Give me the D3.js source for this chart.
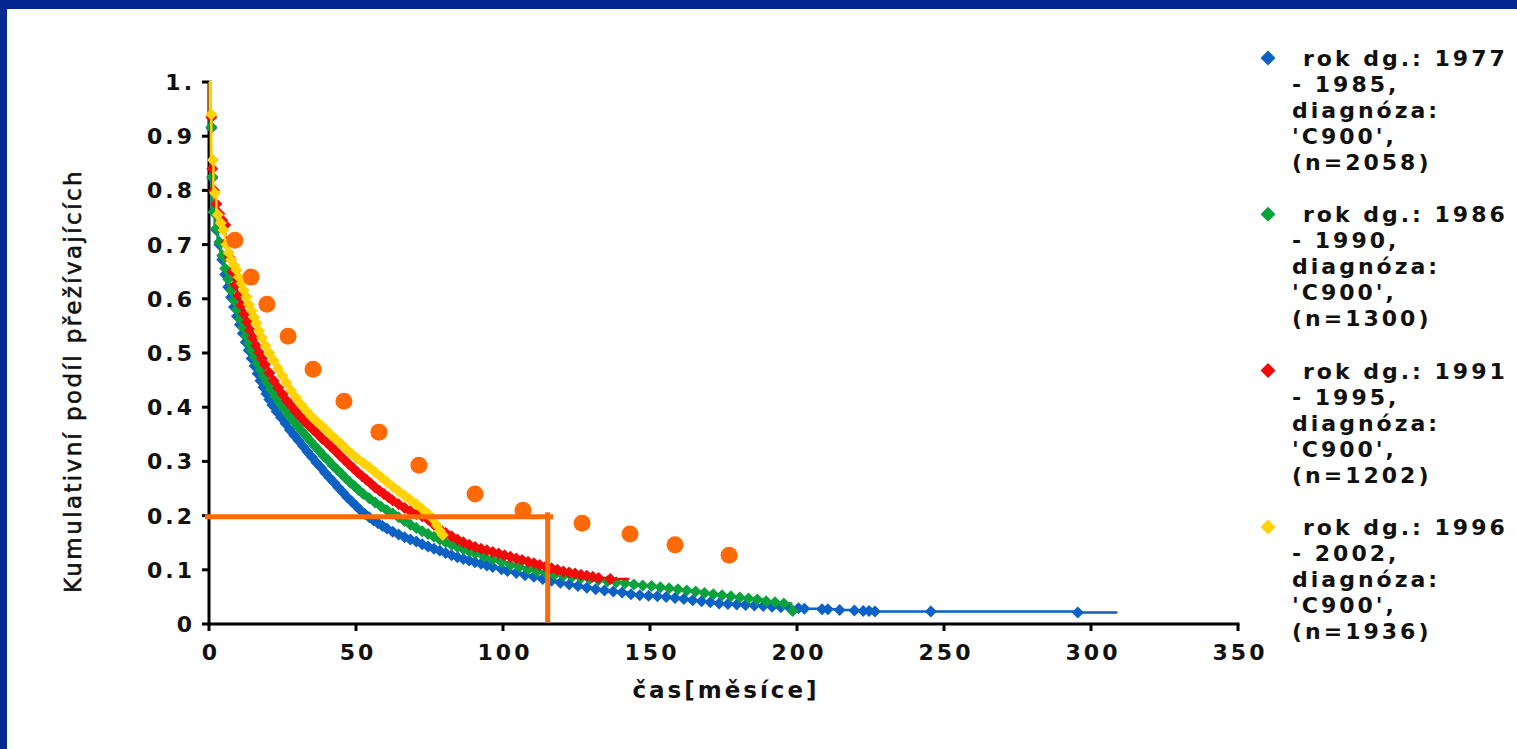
<!DOCTYPE html>
<html>
<head>
<meta charset="utf-8">
<script src="https://cdn.jsdelivr.net/npm/d3@7"></script>
<style>
  body { margin: 0; background: #fff; }
  svg { display: block; }
  .tick-lbl { font-family: "DejaVu Sans", Verdana, sans-serif; font-weight: bold; font-size: 22px; letter-spacing: 3px; fill: #111; }
  .legend-txt { font-family: "DejaVu Sans", Verdana, sans-serif; font-weight: bold; font-size: 22px; letter-spacing: 3px; fill: #111; }
</style>
</head>
<body>
<svg width="1517" height="749"></svg>
<script>
// --- data (t = months, s = cumulative survival) ---
const rok1977 = [[0,1],[0.3,0.915],[0.6,0.823],[1,0.76],[2,0.727],[3,0.70],[4,0.672],[5,0.645],[6,0.622],[7,0.603],[8,0.585],[9,0.568],[10,0.552],[11,0.536],[12,0.52],[13,0.505],[14,0.49],[15,0.476],[16,0.462],[17,0.449],[18,0.437],[19,0.425],[20,0.414],[21,0.404],[22.5,0.392],[24,0.381],[25.5,0.37],[27,0.358],[28.5,0.348],[30,0.338],[31.5,0.328],[33,0.318],[34.5,0.308],[36,0.298],[37.5,0.289],[39,0.279],[40.5,0.27],[42,0.261],[43.5,0.252],[45,0.243],[46.5,0.234],[48,0.226],[49.5,0.218],[51,0.21],[52.5,0.203],[54,0.197],[55.5,0.191],[57,0.186],[58.5,0.181],[60,0.176],[62,0.17],[64,0.165],[66,0.16],[68,0.156],[70,0.152],[72,0.147],[74,0.143],[76,0.139],[78,0.135],[80,0.131],[82,0.127],[84,0.123],[86,0.12],[88,0.117],[90,0.114],[92,0.111],[94,0.108],[96,0.105],[99,0.101],[101,0.098],[104,0.094],[107,0.09],[110,0.087],[113,0.083],[116,0.08],[119,0.076],[122,0.073],[125,0.07],[128,0.067],[131,0.064],[134,0.062],[137,0.06],[140,0.058],[143,0.055],[146,0.053],[149,0.052],[152,0.051],[155,0.05],[158,0.048],[161,0.046],[164,0.044],[167,0.042],[170,0.04],[173,0.038],[176,0.037],[179,0.036],[182,0.035],[185,0.034],[188,0.033],[191,0.032],[194,0.031],[197,0.03],[200,0.029],[202,0.028],[208,0.027],[210,0.027],[214,0.026],[219,0.025],[222,0.024],[224,0.024],[226,0.023],[245,0.023],[295,0.021]];
const rok1986 = [[0,1],[0.3,0.917],[0.6,0.825],[1,0.76],[2,0.73],[3,0.705],[4,0.68],[5,0.656],[6,0.636],[7,0.616],[8,0.597],[9,0.58],[10,0.563],[11,0.547],[12,0.532],[13,0.518],[14,0.505],[15,0.493],[16,0.481],[17,0.469],[18,0.458],[19,0.447],[20.5,0.433],[22,0.42],[23.5,0.408],[25,0.397],[26.5,0.386],[28,0.376],[29.5,0.366],[31,0.356],[32.5,0.347],[34,0.337],[35.5,0.328],[37,0.319],[38.5,0.31],[40,0.302],[41.5,0.293],[43,0.285],[44.5,0.277],[46,0.269],[47.5,0.261],[49,0.254],[50.5,0.247],[52,0.24],[54,0.232],[56,0.224],[58,0.217],[60,0.21],[62,0.204],[64,0.197],[66,0.19],[68,0.183],[70,0.177],[72,0.171],[74,0.166],[76,0.161],[78,0.156],[80,0.151],[82,0.146],[84,0.142],[86,0.138],[88,0.134],[90,0.13],[93,0.124],[96,0.119],[99,0.114],[102,0.109],[105,0.105],[108,0.101],[111,0.097],[114,0.094],[117,0.091],[120,0.089],[123,0.087],[126,0.085],[129,0.083],[132,0.081],[135,0.079],[138,0.077],[141,0.075],[144,0.073],[147,0.071],[150,0.07],[153,0.068],[156,0.066],[159,0.064],[162,0.062],[165,0.06],[168,0.057],[171,0.055],[174,0.053],[177,0.051],[180,0.049],[183,0.047],[186,0.045],[189,0.042],[192,0.04],[195,0.038],[198,0.024]];
const rok1991 = [[0,1],[0.3,0.935],[0.6,0.84],[1.2,0.8],[2,0.775],[3,0.757],[4,0.745],[5,0.736],[5.5,0.705],[6.5,0.676],[7.5,0.65],[8.5,0.626],[9.5,0.606],[10.5,0.588],[11.5,0.572],[12.5,0.557],[13.5,0.542],[14.5,0.528],[15.5,0.514],[16.5,0.501],[17.5,0.49],[18.5,0.479],[20,0.463],[21.5,0.449],[23,0.436],[24.5,0.424],[26,0.412],[27.5,0.402],[29,0.392],[30.5,0.383],[32,0.374],[33.5,0.366],[35,0.358],[36.5,0.35],[38,0.342],[39.5,0.335],[41,0.327],[42.5,0.319],[44,0.311],[45.5,0.303],[47,0.295],[48.5,0.288],[50,0.28],[51.5,0.273],[53,0.266],[54.5,0.259],[56,0.252],[57.5,0.246],[59,0.24],[60.5,0.234],[62,0.228],[64,0.221],[66,0.214],[68,0.208],[70,0.203],[72,0.199],[74,0.193],[76,0.183],[78,0.175],[80,0.168],[82,0.162],[84,0.156],[86,0.151],[88,0.146],[90,0.142],[92,0.139],[94,0.136],[96,0.133],[98,0.13],[100,0.127],[102,0.124],[104,0.121],[106,0.118],[108,0.115],[110,0.112],[112,0.109],[114,0.106],[116,0.103],[118,0.1],[120,0.097],[122,0.095],[124,0.093],[126,0.091],[128,0.089],[130,0.087],[132,0.085],[136,0.083]];
const rok1996 = [[0,1],[0.3,0.94],[0.8,0.856],[1.5,0.795],[2.5,0.755],[3.5,0.74],[4.4,0.727],[5.4,0.7],[6.2,0.685],[7,0.672],[8,0.662],[8.8,0.653],[9.6,0.64],[10.5,0.628],[11.3,0.616],[12.2,0.604],[13,0.59],[14,0.578],[14.8,0.566],[15.6,0.555],[16.5,0.541],[17.5,0.528],[18.7,0.514],[20,0.5],[21.5,0.486],[23,0.472],[24.4,0.458],[25.8,0.445],[27.4,0.431],[29,0.418],[30.8,0.405],[32.7,0.393],[34.3,0.383],[36,0.374],[37.8,0.366],[39.5,0.357],[41.2,0.348],[43,0.339],[44.6,0.331],[46.3,0.322],[48.2,0.313],[50,0.305],[52,0.297],[54,0.289],[56,0.28],[58,0.271],[60,0.262],[62,0.253],[64,0.245],[66,0.237],[68,0.229],[70,0.221],[72,0.212],[74,0.203],[75.5,0.195],[77,0.182],[78,0.172],[79,0.164]];

// where each step line stops (last follow-up), null = ends at last marker
const lineEnds = [309, null, 143, null];

const seriesNames = ["rok1977", "rok1986", "rok1991", "rok1996"];
const seriesColors = ["#0b62c4", "#0aa23c", "#f20a0a", "#ffd200"];
const legendLines = [
  ["rok dg.: 1977", "- 1985,", "diagnóza:", "'C900',", "(n=2058)"],
  ["rok dg.: 1986", "- 1990,", "diagnóza:", "'C900',", "(n=1300)"],
  ["rok dg.: 1991", "- 1995,", "diagnóza:", "'C900',", "(n=1202)"],
  ["rok dg.: 1996", "- 2002,", "diagnóza:", "'C900',", "(n=1936)"]
];

// orange reference points
const refT = [8.8, 14.3, 19.7, 26.9, 35.4, 45.9, 57.8, 71.4, 90.5, 106.8, 126.9, 143.2, 158.5, 176.9];
const refS = [0.708, 0.640, 0.590, 0.531, 0.470, 0.411, 0.354, 0.293, 0.240, 0.210, 0.186, 0.166, 0.146, 0.127];

// median-ish marker lines
const guideS = 0.198;
const guideT = 115.2;

const xTicks = [0, 50, 100, 150, 200, 250, 300, 350];
const yTicks = [0, 0.1, 0.2, 0.3, 0.4, 0.5, 0.6, 0.7, 0.8, 0.9, 1];
const yTickLabels = ["0", "0.1", "0.2", "0.3", "0.4", "0.5", "0.6", "0.7", "0.8", "0.9", "1."];

const allSeries = [rok1977, rok1986, rok1991, rok1996];

const svg = d3.select("svg");

// frame
svg.append("rect").attr("x", 0).attr("y", 0).attr("width", 1517).attr("height", 9).attr("fill", "#03298f");
svg.append("rect").attr("x", 0).attr("y", 0).attr("width", 7).attr("height", 749).attr("fill", "#03298f");

const x = d3.scaleLinear().domain([0, 350]).range([209, 1238]);
const y = d3.scaleLinear().domain([0, 1]).range([624, 82]);

const diamond = {
  draw(ctx, size) {
    const r = Math.sqrt(size / 2);
    ctx.moveTo(0, -r);
    ctx.lineTo(r, 0);
    ctx.lineTo(0, r);
    ctx.lineTo(-r, 0);
    ctx.closePath();
  }
};

// axes
const yAxis = svg.append("g").attr("transform", "translate(209,0)");
yAxis.append("line").attr("x1", 0).attr("x2", 0).attr("y1", y(1) - 1).attr("y2", y(0) + 1.5)
  .attr("stroke", "#000").attr("stroke-width", 3);
yAxis.selectAll(".yt").data(yTicks).enter().append("line")
  .attr("x1", -7).attr("x2", 0).attr("y1", d => y(d)).attr("y2", d => y(d))
  .attr("stroke", "#000").attr("stroke-width", 3);
yAxis.selectAll(".yl").data(yTicks).enter().append("text")
  .attr("class", "tick-lbl")
  .attr("x", -14).attr("y", d => y(d) + 8)
  .attr("text-anchor", "end")
  .text((d, i) => yTickLabels[i]);

const xAxis = svg.append("g").attr("transform", "translate(0,624)");
xAxis.append("line").attr("x1", x(0) - 1.5).attr("x2", x(350) + 1.5).attr("y1", 0).attr("y2", 0)
  .attr("stroke", "#000").attr("stroke-width", 3);
xAxis.selectAll(".xt").data(xTicks).enter().append("line")
  .attr("x1", d => x(d)).attr("x2", d => x(d)).attr("y1", 0).attr("y2", 7)
  .attr("stroke", "#000").attr("stroke-width", 3);
xAxis.selectAll(".xl").data(xTicks).enter().append("text")
  .attr("class", "tick-lbl")
  .attr("x", d => x(d) + 2).attr("y", 36)
  .attr("text-anchor", "middle")
  .text(d => d);

// axis titles
svg.append("text")
  .attr("x", 726).attr("y", 698)
  .attr("text-anchor", "middle")
  .attr("font-family", "DejaVu Sans, Verdana, sans-serif")
  .attr("font-weight", "bold")
  .attr("font-size", 23)
  .attr("letter-spacing", 3)
  .attr("fill", "#111")
  .text("čas[měsíce]");

svg.append("text")
  .attr("transform", "translate(81,381) rotate(-90)")
  .attr("text-anchor", "middle")
  .attr("font-family", "DejaVu Sans, Verdana, sans-serif")
  .attr("font-size", 23)
  .attr("letter-spacing", 2.4)
  .attr("fill", "#111")
  .attr("stroke", "#111")
  .attr("stroke-width", 0.6)
  .text("Kumulativní podíl přežívajících");

// KM curves
const line = d3.line().curve(d3.curveStepAfter).x(d => x(d[0])).y(d => y(d[1]));
const sym = d3.symbol().type(diamond).size(2 * 6 * 6);

allSeries.forEach((pts, i) => {
  const g = svg.append("g").attr("class", seriesNames[i]);
  const linePts = lineEnds[i] ? pts.concat([[lineEnds[i], pts[pts.length - 1][1]]]) : pts;
  g.append("path")
    .attr("d", line(linePts))
    .attr("fill", "none")
    .attr("stroke", seriesColors[i])
    .attr("stroke-width", 2.5);
  g.selectAll("path.m").data(pts.slice(1)).enter().append("path")
    .attr("class", "m")
    .attr("transform", d => `translate(${x(d[0]) + 1.5},${y(d[1])})`)
    .attr("d", sym)
    .attr("fill", seriesColors[i]);
});

// orange reference dots
svg.append("g").selectAll("circle").data(refT).enter().append("circle")
  .attr("cx", d => x(d))
  .attr("cy", (d, i) => y(refS[i]))
  .attr("r", 8.5)
  .attr("fill", "#ff6a06");

// orange guide lines
svg.append("line")
  .attr("x1", x(-1.4)).attr("x2", x(117)).attr("y1", y(guideS)).attr("y2", y(guideS))
  .attr("stroke", "#ff6a06").attr("stroke-width", 5);
svg.append("line")
  .attr("x1", x(guideT)).attr("x2", x(guideT)).attr("y1", y(guideS + 0.008)).attr("y2", y(0) - 2)
  .attr("stroke", "#ff6a06").attr("stroke-width", 5);

// legend
const legend = svg.append("g");
const legSym = d3.symbol().type(diamond).size(2 * 7.5 * 7.5);
legendLines.forEach((lines, i) => {
  const cy = 58 + i * 156.3;
  legend.append("path")
    .attr("transform", `translate(1268,${cy})`)
    .attr("d", legSym)
    .attr("fill", seriesColors[i]);
  lines.forEach((txt, j) => {
    legend.append("text")
      .attr("class", "legend-txt")
      .attr("x", j === 0 ? 1303 : 1292)
      .attr("y", cy + 8 + j * 26)
      .text(txt);
  });
});
</script>
</body>
</html>
